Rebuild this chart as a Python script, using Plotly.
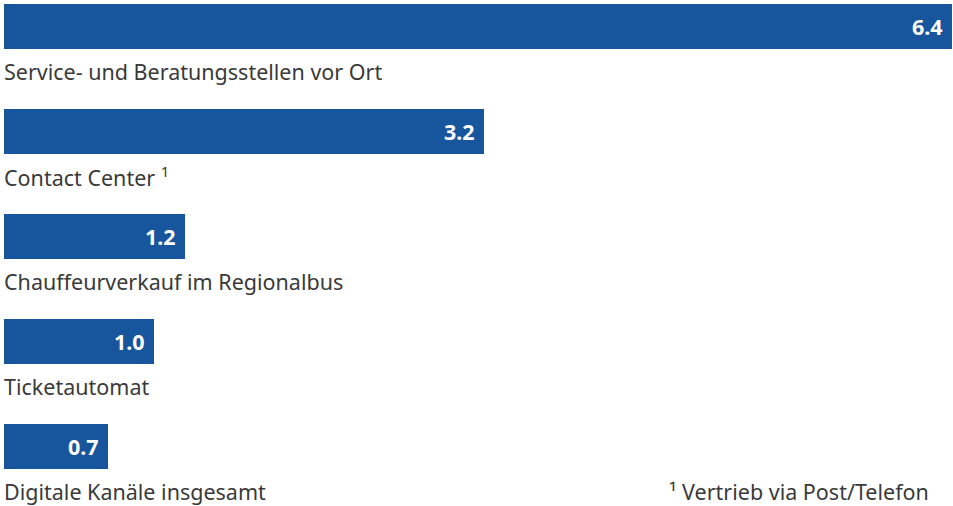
import plotly.graph_objects as go

categories = [
    "Service- und Beratungsstellen vor Ort",
    "Contact Center <sup>1</sup>",
    "Chauffeurverkauf im Regionalbus",
    "Ticketautomat",
    "Digitale Kanäle insgesamt",
]
values = [6.4, 3.24, 1.22, 1.01, 0.70]
value_labels = ["6.4", "3.2", "1.2", "1.0", "0.7"]
footnote = "¹ Vertrieb via Post/Telefon"

BLUE = "#17559C"
TEXT = "#3a3a3a"
FONT = "Noto Sans"

pos = list(range(len(categories)))

fig = go.Figure(
    go.Bar(
        x=values,
        y=pos,
        orientation="h",
        width=0.43,
        marker=dict(color=BLUE, line=dict(width=0)),
        hoverinfo="skip",
    )
)

# value labels inside the bar ends
for i, (v, t) in enumerate(zip(values, value_labels)):
    fig.add_annotation(
        x=v, y=i, xref="x", yref="y",
        text="<b>" + t + "</b>", showarrow=False,
        xanchor="right", yanchor="middle", xshift=-7,
        font=dict(size=21.5, color="white", family=FONT),
    )

# category names under each bar
for i, name in enumerate(categories):
    fig.add_annotation(
        x=0, y=i + 0.43, xref="x", yref="y",
        text=name, showarrow=False,
        xanchor="left", yanchor="middle", xshift=-2,
        font=dict(size=21.5, color=TEXT, family=FONT),
    )

fig.add_annotation(
    x=0.978, y=4 + 0.43, xref="paper", yref="y",
    text=footnote, showarrow=False,
    xanchor="right", yanchor="middle",
    font=dict(size=21.5, color=TEXT, family=FONT),
)

fig.update_layout(
    width=953, height=506,
    margin=dict(l=4, r=1, t=0, b=0),
    paper_bgcolor="white", plot_bgcolor="white",
    showlegend=False,
    bargap=0,
    xaxis=dict(range=[0, 6.4], visible=False, fixedrange=True),
    yaxis=dict(range=[4.567, -0.252], visible=False, fixedrange=True),
)

fig.write_html(
    "out.html",
    config={"displayModeBar": False},
    post_script="document.body.style.margin='0';",
)
